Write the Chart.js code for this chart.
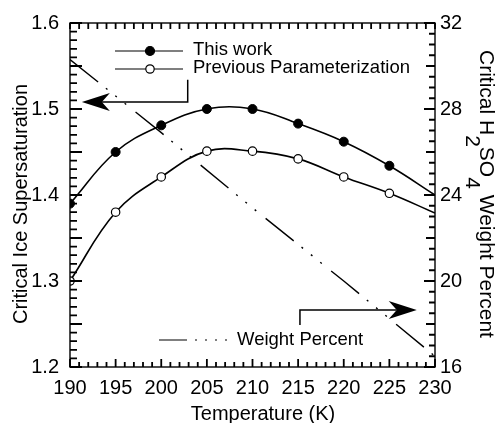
<!DOCTYPE html>
<html>
<head>
<meta charset="utf-8">
<script src="https://cdn.jsdelivr.net/npm/chart.js@4.4.0/dist/chart.umd.min.js"></script>
<style>
  body { margin: 0; background: #fff; }
  canvas { display: block; }
</style>
</head>
<body>
<canvas id="chart" width="497" height="423"></canvas>
<script>
// --- DATA ---
// temperature (K); the 230 K value is where the fitted curve ends (no marker)
const temps = [190, 195, 200, 205, 210, 215, 220, 225, 230];
const lastMarkedTemp = 225;
// critical ice supersaturation
const thisWork  = [1.39, 1.45, 1.481, 1.50, 1.50, 1.483, 1.462, 1.434, 1.40];
const prevParam = [1.30, 1.38, 1.421, 1.451, 1.451, 1.442, 1.421, 1.402, 1.379];
// critical H2SO4 weight percent (right axis)
const wpTemps   = [190, 200, 210, 220, 230];
const weightPct = [30.3, 26.9, 23.4, 20.0, 16.5];

// axis ticks
const xTickStep = 5;
const yTickStep = 0.1;
const y2TickStep = 4;

const FONT = '"Liberation Sans", Arial, Helvetica, sans-serif';
Chart.defaults.color = '#000';
Chart.defaults.font.family = FONT;

const toXY = (xs, ys) => xs.map((t, i) => ({ x: t, y: ys[i] }));
const markerRadius = r => c => temps[c.dataIndex] <= lastMarkedTemp ? r : 0;

// --- FRAME, INWARD TICKS, TITLES, LEGEND, ARROWS ---
function arrowHead(ctx, tipX, tipY, dir) {
    // barbed arrow head, dir = -1 points left, +1 points right
    ctx.beginPath();
    ctx.moveTo(tipX, tipY);
    ctx.lineTo(tipX - dir * 28, tipY - 9);
    ctx.lineTo(tipX - dir * 20, tipY);
    ctx.lineTo(tipX - dir * 28, tipY + 9);
    ctx.closePath();
    ctx.fill();
}

// minor ticks: 1 K on x, 0.01 on left axis, 0.5 wt% on right axis
function drawInwardTicks(ctx, a) {
    ctx.save();
    ctx.setLineDash([]);
    ctx.strokeStyle = '#000';
    ctx.lineWidth = 1.8;
    ctx.beginPath();
    for (let k = 0; k <= 40; k++) {
        const px = a.left + (a.right - a.left) * k / 40;
        ctx.moveTo(px, a.top);
        ctx.lineTo(px, a.top + 6);
        ctx.moveTo(px, a.bottom);
        ctx.lineTo(px, a.bottom - (k % 5 === 0 ? 8 : 5));
    }
    for (let k = 0; k <= 40; k++) {
        const py = a.top + (a.bottom - a.top) * k / 40;
        ctx.moveTo(a.left, py);
        ctx.lineTo(a.left + (k % 5 === 0 ? 12 : 7), py);
    }
    for (let k = 0; k <= 32; k++) {
        const py = a.top + (a.bottom - a.top) * k / 32;
        ctx.moveTo(a.right, py);
        ctx.lineTo(a.right - (k % 8 === 0 ? 11 : (k % 4 === 0 ? 9 : 6)), py);
    }
    ctx.stroke();
    ctx.restore();
}

const decorations = {
    id: 'decorations',
    afterDatasetsDraw(chart) {
        drawInwardTicks(chart.ctx, chart.chartArea);
    },
    afterDraw(chart) {
        const { ctx, chartArea: a, scales } = chart;
        const sx = scales.x, sy = scales.y, sy2 = scales.y2;
        ctx.save();
        ctx.setLineDash([]);
        ctx.strokeStyle = '#000';
        ctx.fillStyle = '#000';

        // box
        ctx.lineWidth = 1.4;
        ctx.strokeRect(a.left, a.top, a.right - a.left, a.bottom - a.top);

        // axis titles
        ctx.font = '20px ' + FONT;
        ctx.textBaseline = 'middle';
        ctx.textAlign = 'center';
        ctx.fillText('Temperature (K)', 263, 414);

        ctx.save();
        ctx.translate(27, 204);
        ctx.rotate(-Math.PI / 2);
        ctx.textBaseline = 'alphabetic';
        ctx.fillText('Critical Ice Supersaturation', 0, 0);
        ctx.restore();

        ctx.save();
        ctx.font = '21px ' + FONT;
        ctx.translate(480, 50);
        ctx.rotate(Math.PI / 2);
        ctx.textAlign = 'left';
        ctx.textBaseline = 'alphabetic';
        let cx = 0;
        [['Critical H', 0], ['2', 14], ['SO', 0], ['4', 14], [' Weight Percent', 0]].forEach(([s, dy]) => {
            ctx.fillText(s, cx, dy);
            cx += ctx.measureText(s).width;
        });
        ctx.restore();

        // legend
        ctx.font = '18.5px ' + FONT;
        ctx.textAlign = 'left';
        ctx.textBaseline = 'middle';
        ctx.lineWidth = 1.2;
        [[51, true, 'This work'], [69, false, 'Previous Parameterization']].forEach(([rowY, filled, label]) => {
            ctx.beginPath();
            ctx.moveTo(115, rowY); ctx.lineTo(183, rowY);
            ctx.stroke();
            ctx.beginPath();
            ctx.arc(150, rowY, filled ? 4.5 : 4.2, 0, Math.PI * 2);
            ctx.fillStyle = filled ? '#000' : '#fff';
            ctx.fill();
            ctx.stroke();
            ctx.fillStyle = '#000';
            ctx.fillText(label, 193, rowY - 1);
        });
        ctx.save();
        ctx.setLineDash([28, 8, 2, 8, 2, 8, 2, 8, 2, 100]);
        ctx.beginPath();
        ctx.moveTo(159, 340); ctx.lineTo(229, 340);
        ctx.stroke();
        ctx.restore();
        ctx.fillText('Weight Percent', 237, 340);

        // arrows pointing to the axis each curve belongs to
        ctx.lineWidth = 1.5;
        const lx0 = sx.getPixelForValue(202.9), lyTop = sy.getPixelForValue(1.534);
        const lyy = sy.getPixelForValue(1.508), lTip = sx.getPixelForValue(191.3);
        ctx.beginPath();
        ctx.moveTo(lx0, lyTop); ctx.lineTo(lx0, lyy); ctx.lineTo(lTip + 20, lyy);
        ctx.stroke();
        arrowHead(ctx, lTip, lyy, -1);

        const rx0 = sx.getPixelForValue(215.2), ryBot = sy2.getPixelForValue(17.95);
        const ryy = sy2.getPixelForValue(18.65), rTip = sx.getPixelForValue(228.0);
        ctx.beginPath();
        ctx.moveTo(rx0, ryBot); ctx.lineTo(rx0, ryy); ctx.lineTo(rTip - 20, ryy);
        ctx.stroke();
        arrowHead(ctx, rTip, ryy, 1);

        ctx.restore();
    }
};

new Chart(document.getElementById('chart'), {
    type: 'line',
    data: {
        datasets: [{
            label: 'Weight Percent',
            data: toXY(wpTemps, weightPct),
            yAxisID: 'y2',
            borderColor: '#000',
            borderWidth: 1.4,
            borderDash: [36, 10, 2, 10, 2, 10, 2, 12],
            tension: 0,
            pointRadius: 0
        }, {
            label: 'This work',
            data: toXY(temps, thisWork),
            yAxisID: 'y',
            borderColor: '#000',
            borderWidth: 1.6,
            tension: 0.4,
            pointRadius: markerRadius(4.5),
            pointBackgroundColor: '#000',
            pointBorderColor: '#000',
            pointBorderWidth: 1
        }, {
            label: 'Previous Parameterization',
            data: toXY(temps, prevParam),
            yAxisID: 'y',
            borderColor: '#000',
            borderWidth: 1.6,
            tension: 0.4,
            pointRadius: markerRadius(4.2),
            pointBackgroundColor: '#fff',
            pointBorderColor: '#000',
            pointBorderWidth: 1.2
        }]
    },
    options: {
        responsive: false,
        animation: false,
        layout: { padding: { top: 23, left: 0, right: 0, bottom: 0 } },
        plugins: { legend: { display: false }, tooltip: { enabled: false } },
        scales: {
            x: {
                type: 'linear', position: 'bottom', min: 190, max: 230,
                afterFit: s => { s.height = 56; },
                grid: { display: false, drawTicks: false },
                border: { display: false },
                ticks: { stepSize: xTickStep, padding: 9, maxRotation: 0, autoSkip: false,
                         color: '#000', font: { size: 20 } }
            },
            y: {
                type: 'linear', position: 'left', min: 1.2, max: 1.6,
                afterFit: s => { s.width = 70; },
                grid: { display: false, drawTicks: false },
                border: { display: false },
                ticks: { stepSize: yTickStep, padding: 11, color: '#000', font: { size: 20 },
                         callback: v => v.toFixed(1) }
            },
            y2: {
                type: 'linear', position: 'right', min: 16, max: 32,
                afterFit: s => { s.width = 62; },
                grid: { display: false, drawTicks: false },
                border: { display: false },
                ticks: { stepSize: y2TickStep, padding: 5, color: '#000', font: { size: 20 } }
            }
        }
    },
    plugins: [decorations]
});
</script>
</body>
</html>
